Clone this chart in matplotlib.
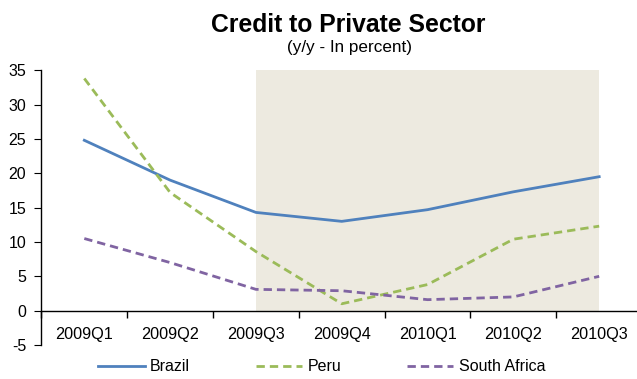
import matplotlib
matplotlib.use("Agg")
import matplotlib.pyplot as plt
import numpy as np

plt.rcParams['font.family'] = ['Liberation Sans', 'DejaVu Sans']
plt.rcParams['axes.unicode_minus'] = False

quarters = ['2009Q1', '2009Q2', '2009Q3', '2009Q4', '2010Q1', '2010Q2', '2010Q3']
brazil = [24.8, 19.0, 14.3, 13.0, 14.7, 17.3, 19.5]
peru = [33.8, 17.2, 8.6, 1.0, 3.8, 10.4, 12.3]
south_africa = [10.5, 7.0, 3.1, 2.9, 1.6, 2.0, 5.0]

# shaded period runs from 2009Q3 to 2010Q3
shade_start, shade_end = 2, 6
shade_top = 35

fig = plt.figure(figsize=(6.37, 3.79), dpi=100)
ax = fig.add_axes([0.065, 0.0897, 0.943, 0.725])

x = np.arange(len(quarters))
ax.fill_between([shade_start, shade_end], 0, shade_top, color='#EDEAE0', lw=0, zorder=0)

ax.plot(x, brazil, color='#4F81BD', lw=2, label='Brazil', zorder=3)
ax.plot(x, peru, color='#9BBB59', lw=2, ls=(0, (3, 1.8)), label='Peru', zorder=3)
ax.plot(x, south_africa, color='#8064A2', lw=2, ls=(0, (3, 1.8)), label='South Africa', zorder=3)

ax.set_xlim(-0.5, 6.5)
ax.set_ylim(-5, 35)
ax.set_yticks(range(-5, 36, 5))

# category labels at centres, tick marks at boundaries
ax.set_xticks(x)
ax.set_xticklabels(quarters)
ax.set_xticks(np.arange(-0.5, 7, 1), minor=True)
ax.tick_params(axis='x', which='major', length=0, pad=11.5, labelsize=11.7)
ax.tick_params(axis='x', which='minor', length=5, direction='out', width=1)
ax.tick_params(axis='y', length=5, direction='out', labelsize=11.5, pad=6)

ax.spines['top'].set_visible(False)
ax.spines['right'].set_visible(False)
ax.spines['bottom'].set_position(('data', 0))
for s in ('left', 'bottom'):
    ax.spines[s].set_linewidth(1)

fig.text(0.546, 0.916, 'Credit to Private Sector', ha='center', va='baseline',
         fontsize=17.8, fontweight='bold')
fig.text(0.549, 0.862, '(y/y - In percent)', ha='center', va='baseline', fontsize=12.3)

fig.legend(loc='center', bbox_to_anchor=(0.505, 0.032), ncol=3, frameon=False,
           fontsize=11.5, handlelength=2.9, columnspacing=4.1, handletextpad=0.35)

fig.savefig('out.png', dpi=100)
